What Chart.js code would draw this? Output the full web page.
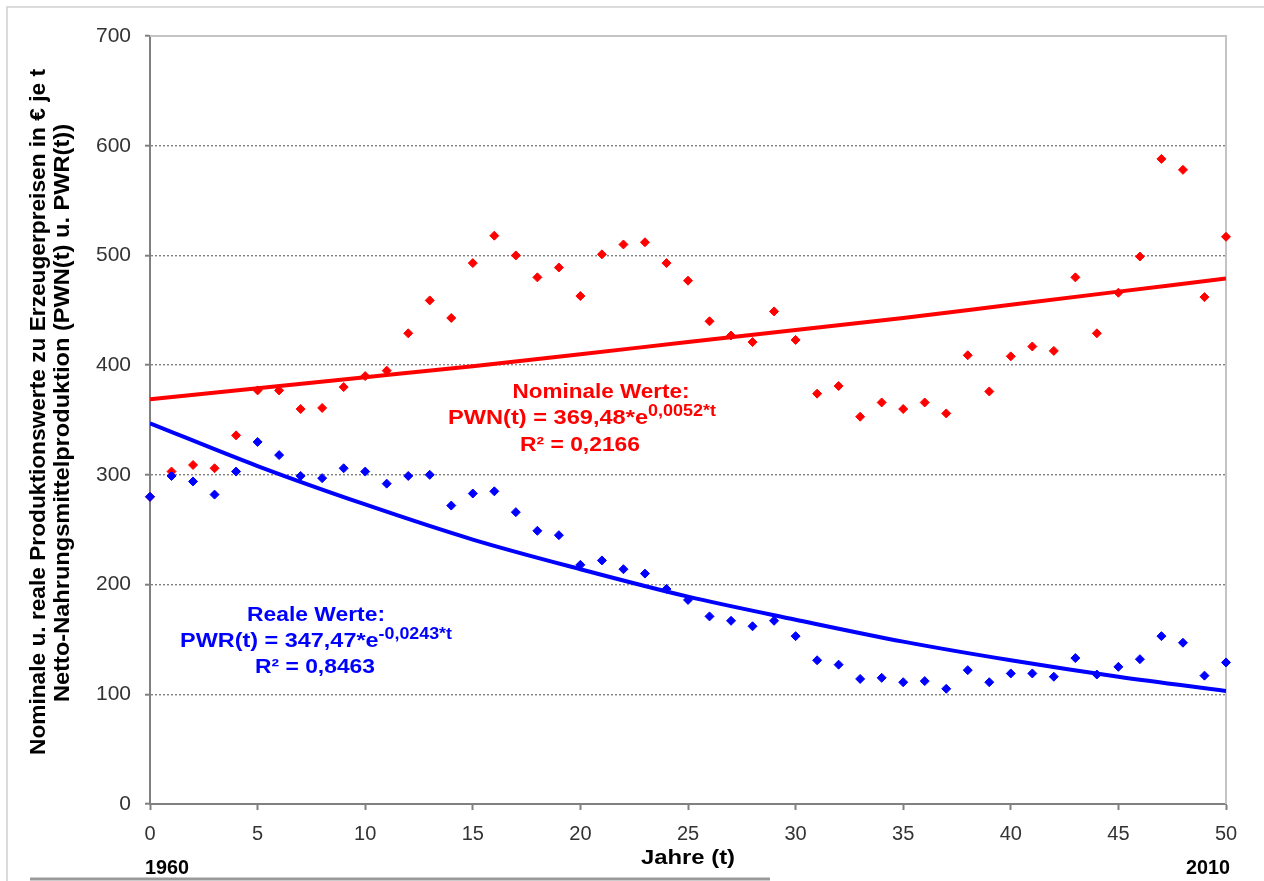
<!DOCTYPE html>
<html>
<head>
<meta charset="utf-8">
<script src="https://cdn.jsdelivr.net/npm/chart.js@4.4.1/dist/chart.umd.min.js"></script>
<style>
html, body { margin: 0; padding: 0; background: #fff; }
canvas { display: block; }
</style>
</head>
<body>
<canvas id="chart" width="1264" height="881"></canvas>
<script>
// Jahre seit 1960 (t)
const years = [0,1,2,3,4,5,6,7,8,9,10,11,12,13,14,15,16,17,18,19,20,21,22,23,24,25,
               26,27,28,29,30,31,32,33,34,35,36,37,38,39,40,41,42,43,44,45,46,47,48,49,50];

// Nominale Werte PWN(t), € je t
const nominal = [280,303,309,306,336,377,377,360,361,380,390,395,429,459,443,493,518,500,480,489,463,501,510,512,493,477,
                 440,427,421,449,423,374,381,353,366,360,366,356,409,376,408,417,413,480,429,466,499,588,578,462,517];

// Reale Werte PWR(t), € je t
const real = [280,299,294,282,303,330,318,299,297,306,303,292,299,300,272,283,285,266,249,245,218,222,214,210,196,186,
              171,167,162,167,153,131,127,114,115,111,112,105,122,111,119,119,116,133,118,125,132,153,147,117,129];

const trendYears = [0,5,10,15,20,25,30,35,40,45,50];
const nominalTrend = [369,379,389,399,410,421,432,443,455,467,479];
const realTrend = [347,308,273,241,214,189,168,148,131,116,103];

const xTickStep = 5;
const yTickStep = 100;

const RED = '#ff0000';
const BLUE = '#0000ff';
const FONT = '"Liberation Sans", Arial, sans-serif';
const NARROW = '"Liberation Sans Narrow", "Liberation Sans", Arial, sans-serif';

function pts(xs, ys) {
    return xs.map((x, i) => ({ x: x, y: ys[i] }));
}

// Text horizontal auf eine Breite bringen
function fitText(ctx, text, x, y, width, align) {
    const w = ctx.measureText(text).width;
    const s = width / w;
    ctx.save();
    ctx.translate(x, y);
    ctx.scale(s, 1);
    ctx.textAlign = align || 'center';
    ctx.fillText(text, 0, 0);
    ctx.restore();
}

function drawFormula(ctx, main, sup, left, y, width, color) {
    ctx.save();
    ctx.fillStyle = color;
    ctx.textBaseline = 'alphabetic';
    ctx.font = 'bold 21px ' + FONT;
    const w1 = ctx.measureText(main).width;
    ctx.font = 'bold 16px ' + FONT;
    const w2 = ctx.measureText(sup).width;
    const s = width / (w1 + w2);
    ctx.translate(left, y);
    ctx.scale(s, 1);
    ctx.textAlign = 'left';
    ctx.font = 'bold 21px ' + FONT;
    ctx.fillText(main, 0, 0);
    ctx.font = 'bold 16px ' + FONT;
    ctx.fillText(sup, w1, -8);
    ctx.restore();
}

const decorPlugin = {
    id: 'decor',
    beforeDatasetsDraw(chart) {
        // Rahmen oben/rechts der Zeichenfläche
        const ctx = chart.ctx;
        const a = chart.chartArea;
        ctx.save();
        ctx.strokeStyle = '#c4c4c4';
        ctx.lineWidth = 2;
        ctx.beginPath();
        ctx.moveTo(a.left, a.top);
        ctx.lineTo(a.right, a.top);
        ctx.lineTo(a.right, a.bottom);
        ctx.stroke();
        ctx.restore();
    },
    afterDraw(chart) {
        const ctx = chart.ctx;
        const a = chart.chartArea;
        ctx.save();

        // äußerer Rahmen
        ctx.strokeStyle = '#d0d0d0';
        ctx.lineWidth = 1.5;
        ctx.beginPath();
        ctx.moveTo(7, 881);
        ctx.lineTo(7, 7);
        ctx.lineTo(1264, 7);
        ctx.stroke();

        // Linie unten
        ctx.strokeStyle = '#9a9a9a';
        ctx.lineWidth = 3;
        ctx.beginPath();
        ctx.moveTo(30, 879);
        ctx.lineTo(770, 879);
        ctx.stroke();

        // y-Achsentitel
        ctx.fillStyle = '#000';
        ctx.font = 'bold 22px ' + NARROW;
        ctx.textBaseline = 'middle';
        ctx.save();
        ctx.translate(39, 412);
        ctx.rotate(-Math.PI / 2);
        fitText(ctx, 'Nominale u. reale Produktionswerte zu Erzeugerpreisen in € je t', 0, 0, 686);
        ctx.restore();
        ctx.save();
        ctx.translate(63, 413);
        ctx.rotate(-Math.PI / 2);
        fitText(ctx, 'Netto-Nahrungsmittelproduktion (PWN(t) u. PWR(t))', 0, 0, 578);
        ctx.restore();

        // x-Achse
        ctx.textBaseline = 'alphabetic';
        ctx.font = 'bold 21px ' + NARROW;
        fitText(ctx, 'Jahre (t)', (a.left + a.right) / 2, 864, 94);
        fitText(ctx, '1960', 167, 874, 44);
        fitText(ctx, '2010', 1208, 874, 44);

        // Regressionen
        ctx.fillStyle = RED;
        ctx.font = 'bold 21px ' + FONT;
        fitText(ctx, 'Nominale Werte:', 601, 398, 177);
        drawFormula(ctx, 'PWN(t) = 369,48*e', '0,0052*t', 448, 424, 268, RED);
        ctx.fillStyle = RED;
        ctx.font = 'bold 21px ' + FONT;
        fitText(ctx, 'R² = 0,2166', 580, 451, 120);

        ctx.fillStyle = BLUE;
        fitText(ctx, 'Reale Werte:', 316, 621, 138);
        drawFormula(ctx, 'PWR(t) = 347,47*e', '-0,0243*t', 180, 647, 272, BLUE);
        ctx.fillStyle = BLUE;
        ctx.font = 'bold 21px ' + FONT;
        fitText(ctx, 'R² = 0,8463', 315, 673, 120);

        ctx.restore();
    }
};

const ctx = document.getElementById('chart').getContext('2d');
new Chart(ctx, {
    type: 'scatter',
    data: {
        datasets: [
            {
                label: 'Reale Werte',
                data: pts(years, real),
                pointStyle: 'rectRot',
                pointRadius: 4.5,
                pointBackgroundColor: BLUE,
                pointBorderColor: BLUE,
                pointBorderWidth: 1,
                showLine: false,
                clip: false,
                order: 1
            },
            {
                label: 'Nominale Werte',
                data: pts(years, nominal),
                pointStyle: 'rectRot',
                pointRadius: 4.5,
                pointBackgroundColor: RED,
                pointBorderColor: RED,
                pointBorderWidth: 1,
                showLine: false,
                clip: false,
                order: 2
            },
            {
                label: 'Trend real',
                data: pts(trendYears, realTrend),
                showLine: true,
                borderColor: BLUE,
                borderWidth: 4,
                pointRadius: 0,
                tension: 0.4,
                cubicInterpolationMode: 'monotone',
                order: 3
            },
            {
                label: 'Trend nominal',
                data: pts(trendYears, nominalTrend),
                showLine: true,
                borderColor: RED,
                borderWidth: 4,
                pointRadius: 0,
                tension: 0.4,
                cubicInterpolationMode: 'monotone',
                order: 4
            }
        ]
    },
    options: {
        responsive: false,
        animation: false,
        devicePixelRatio: 1,
        layout: { padding: { left: 0, right: 38, top: 36, bottom: 0 } },
        plugins: {
            legend: { display: false },
            tooltip: { enabled: false }
        },
        scales: {
            x: {
                type: 'linear',
                min: 0,
                max: 50,
                afterFit: s => { s.height = 77; },
                ticks: {
                    stepSize: xTickStep,
                    color: '#333',
                    padding: 12,
                    font: { family: FONT, size: 20 }
                },
                grid: {
                    drawOnChartArea: false,
                    drawTicks: true,
                    tickLength: 6,
                    tickColor: '#808080',
                    tickWidth: 2
                },
                border: { color: '#808080', width: 2 }
            },
            y: {
                min: 0,
                max: 700,
                afterFit: s => { s.width = 150; },
                ticks: {
                    stepSize: yTickStep,
                    color: '#333',
                    padding: 14,
                    font: { family: FONT, size: 21 }
                },
                grid: {
                    color: c => (c.tick && (c.tick.value === 0 || c.tick.value === 700)) ? 'rgba(0,0,0,0)' : '#808080',
                    lineWidth: 1.4,
                    drawTicks: true,
                    tickLength: 5,
                    tickColor: '#808080',
                    tickWidth: 2
                },
                border: { color: '#808080', width: 2, dash: [2, 2] }
            }
        }
    },
    plugins: [decorPlugin]
});
</script>
</body>
</html>
